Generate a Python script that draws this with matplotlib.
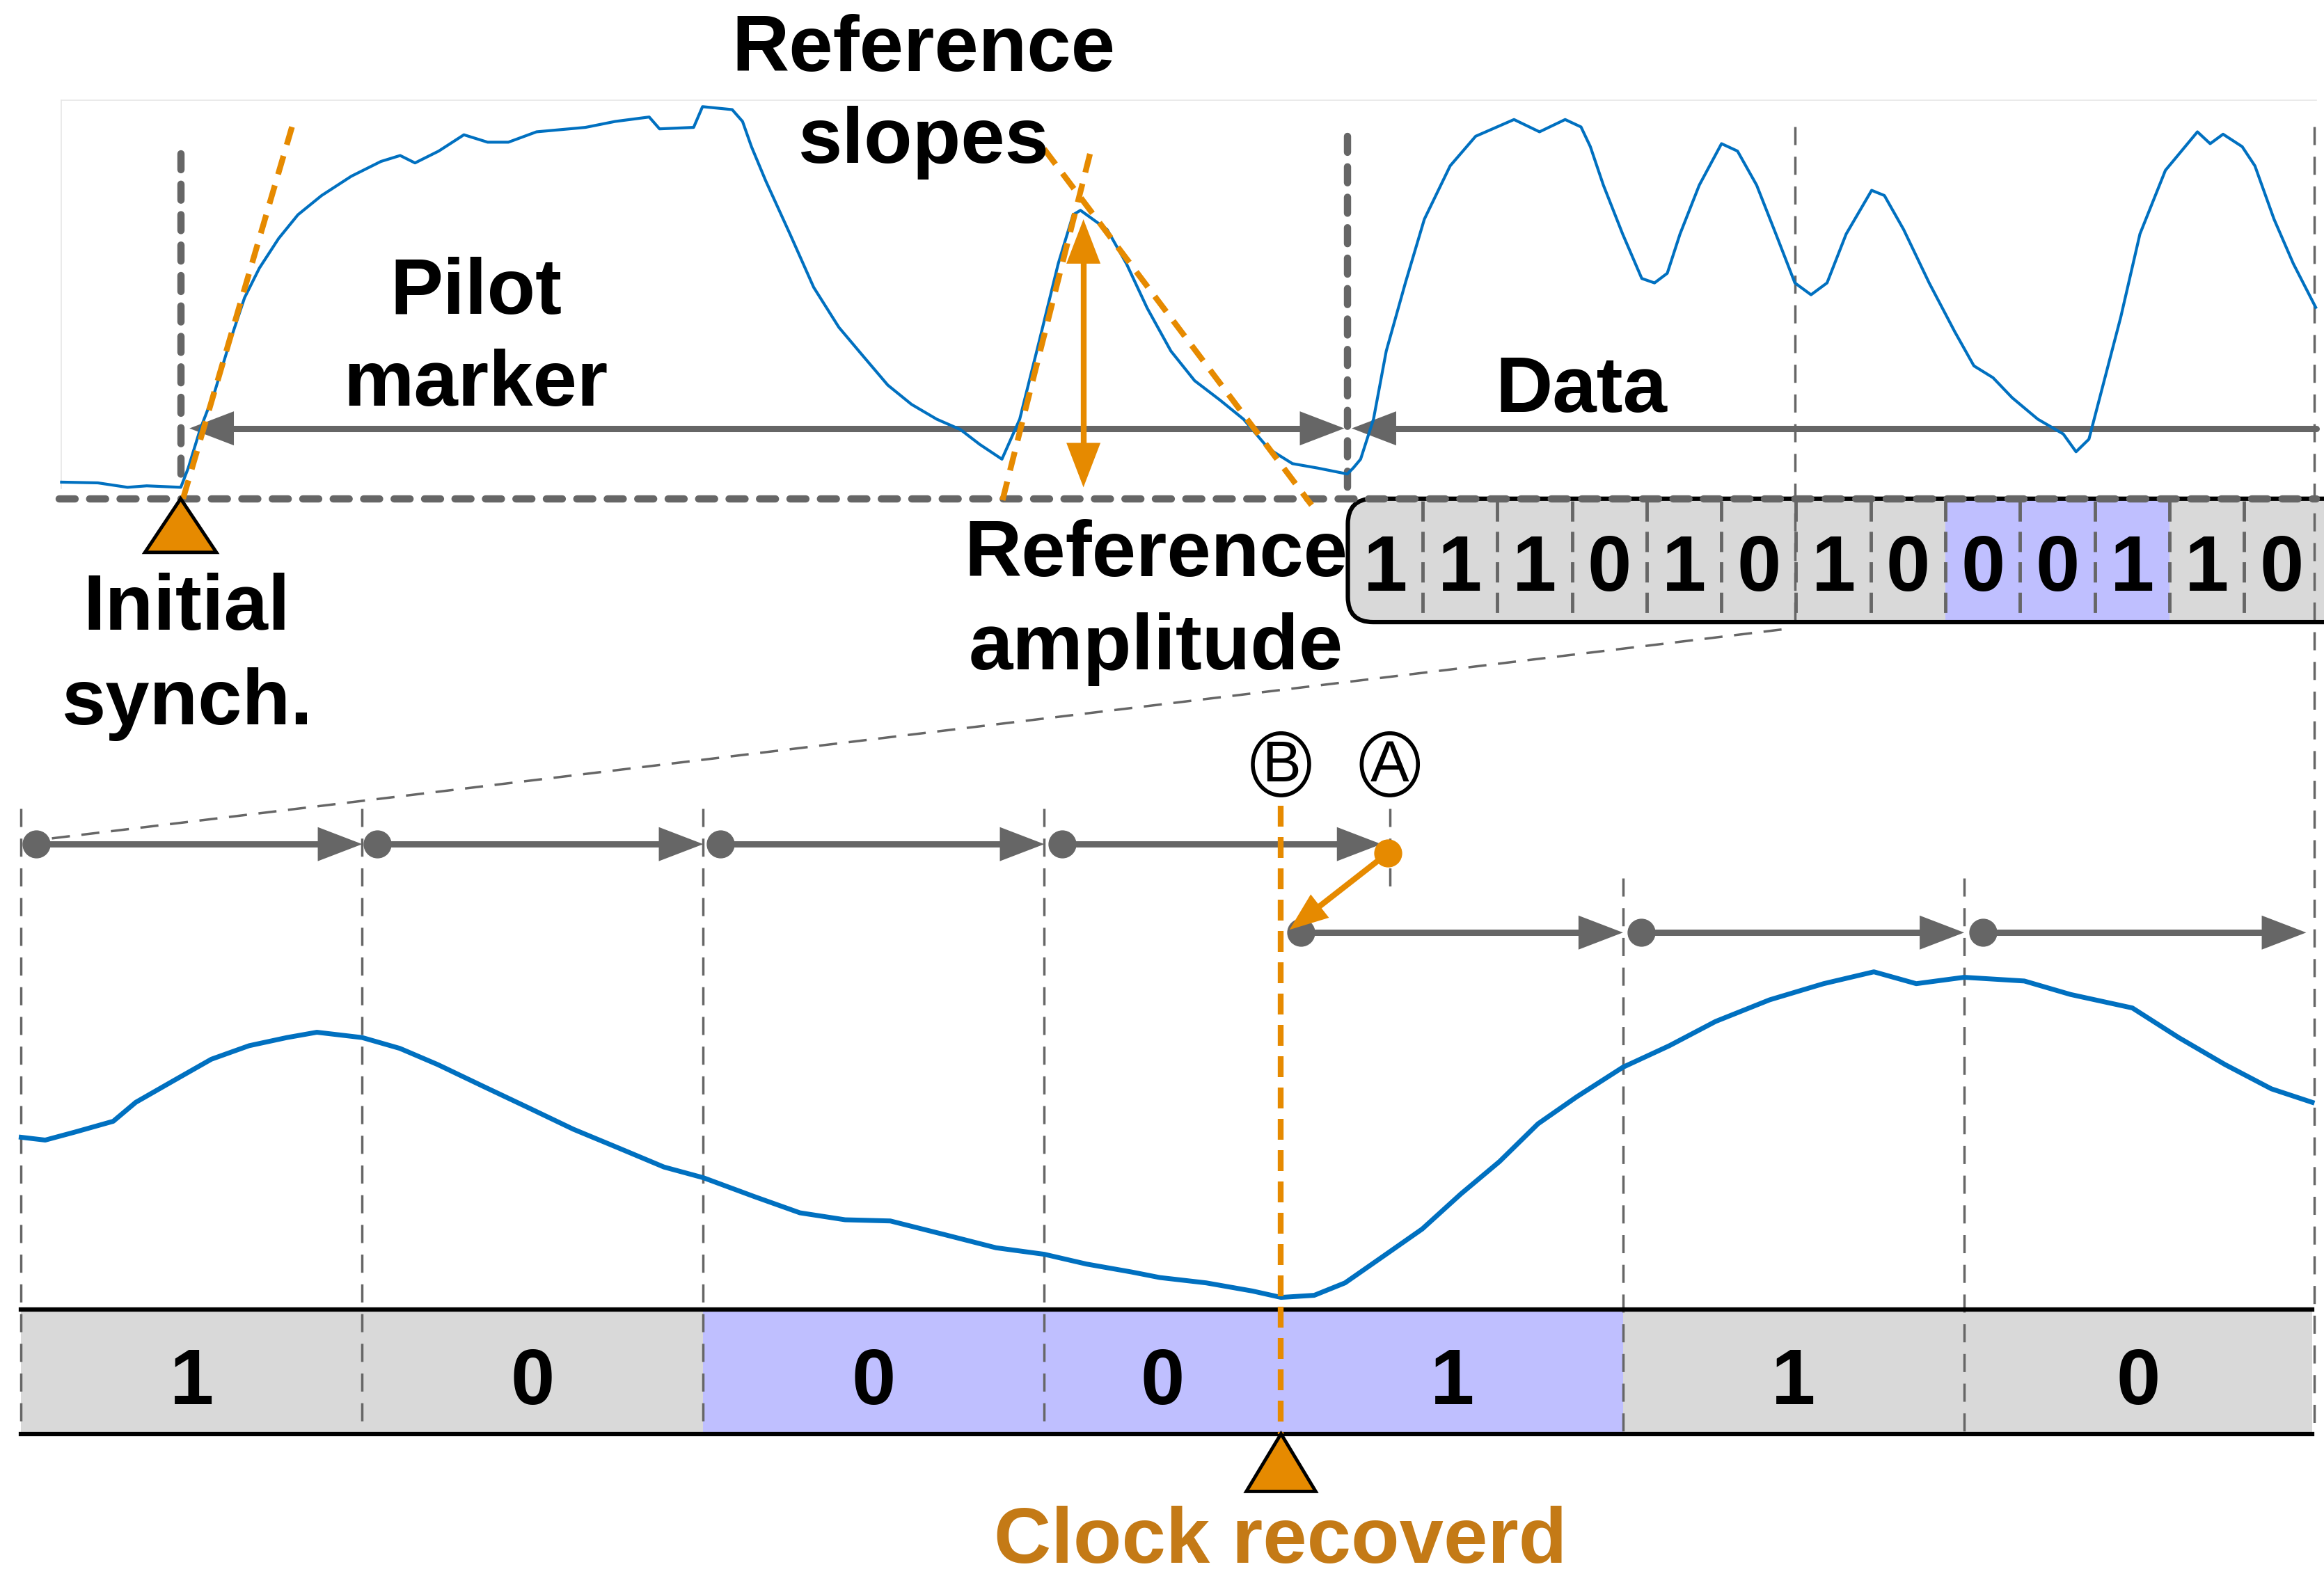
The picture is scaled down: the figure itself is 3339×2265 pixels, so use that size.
import matplotlib.pyplot as plt
from matplotlib.patches import Polygon, Rectangle, FancyBboxPatch, Ellipse

plt.rcParams['font.family'] = ['Liberation Sans', 'DejaVu Sans']

GREY = "#666666"
BLUE = "#0070C0"
ORANGE = "#E68A00"
TEXT_ORANGE = "#C47A16"
CELL_GREY = "#D9D9D9"
CELL_BLUE = "#BFBFFF"

# top trace: pilot marker followed by data
pilot_x = [41.5, 66, 86, 99, 122, 127, 135, 145, 155, 165, 175, 188, 201, 217, 237,
           257, 270, 280, 296, 313, 329, 343, 362, 395, 415, 438, 445, 468, 474, 494,
           501, 507, 516.6, 533, 549, 566, 582, 599, 615, 632, 648, 661, 676, 688, 701,
           714, 724, 729, 747, 760, 774, 790, 806, 823, 839, 856, 872, 889, 909, 913]
pilot_y = [325.5, 326, 329, 328, 329, 316, 290, 264, 231, 201, 181, 161, 145, 132, 119,
           109, 105, 110, 102, 91, 96, 96, 89, 86, 82, 79, 87, 86, 72, 74,
           82, 99, 122, 158, 194, 221, 240, 260, 273, 283, 290, 300, 310, 283, 231,
           178, 145, 142, 155, 178, 208, 237, 257, 270, 283, 303, 313, 316, 320, 316]
data_x = [918, 926.7, 935.3, 948.2, 961, 978.4, 995.6, 1021.5, 1038.7, 1056, 1066.7,
          1073, 1081.8, 1094.8, 1107.7, 1116.3, 1124.9, 1133.5, 1146.5, 1161.5, 1172.3,
          1185.2, 1198.2, 1211, 1221.9, 1232.7, 1245.6, 1262.8, 1271.4, 1284.4, 1301.6,
          1318.9, 1331.8, 1344.7, 1357.6, 1374.9, 1392.1, 1400.7, 1409.4, 1418, 1430.9,
          1443.8, 1461, 1482.6, 1491.2, 1499.9, 1512.8, 1521.4, 1534.3, 1547.3, 1562.4]
data_y = [310, 283, 237, 191, 148, 112, 92, 80.7, 89, 80.7, 85.7,
          99, 125, 158, 188, 191, 184.5, 158, 125, 97, 102,
          125, 158, 191, 199, 191, 158, 128.5, 132, 155, 191,
          224, 247, 255, 268.5, 283, 293, 305, 296.5, 263.5, 214,
          158, 115, 89, 97, 90.6, 99, 112, 148, 178, 207.5]

# bottom trace: zoom on the data bits
zoom_x = [14.3, 30.5, 50.9, 76.4, 91.6, 117.1, 142.6, 168, 193.5, 213.8, 244.4, 269.8,
          295.3, 325.8, 356.4, 386.9, 417.5, 448, 474.5, 509.1, 539.7, 570.2, 600.7,
          636.4, 672, 704.6, 733.1, 763.7, 782.5, 813.8, 845, 864.3, 886.7, 907.5,
          933.6, 959.6, 985.6, 1011.7, 1037.7, 1063.8, 1095, 1126.3, 1157.5, 1194,
          1230.4, 1264.3, 1292.9, 1325.2, 1365.8, 1397, 1438.7, 1470, 1501.2, 1532.5, 1560]
zoom_y = [767.8, 769.7, 764.2, 757, 744.2, 729.6, 715.1, 706, 700.5, 696.9, 700.5, 707.8,
          718.7, 733.3, 747.8, 762.4, 775.1, 787.9, 795.1, 807.9, 818.8, 823.5, 824.3,
          833.3, 842.4, 846.8, 853.4, 858.8, 862.5, 866.1, 871.6, 875.9, 874.5, 866.1,
          847.9, 829.7, 806.1, 784.2, 758.7, 740.5, 720.5, 706, 689.6, 675,
          664.1, 656.1, 664.1, 659.8, 662.3, 671.4, 680.5, 700.5, 718.7, 735.1, 744.2]

top_bits = ["1", "1", "1", "0", "1", "0", "1", "0", "0", "0", "1", "1", "0"]
top_highlight = [8, 9, 10]
bottom_bits = ["1", "0", "0", "0", "1", "1", "0"]
bottom_edges = [14.3, 244.4, 474.5, 704.6, 864.3, 1095.0, 1325.2, 1560.0]
bottom_highlight = [2, 3, 4]

# clock ticks before and after recovery
row1_dots = [24.4, 254.6, 486.2, 716.8]
row1_tips = [244.4, 474.5, 704.6, 932.0]
row2_dots = [877.9, 1107.5, 1337.7]
row2_tips = [1095.0, 1325.2, 1556.0]

fig = plt.figure(figsize=(33.39, 22.65), dpi=100)
ax = fig.add_axes([0, 0, 1, 1])
ax.set_xlim(0, 1568)
ax.set_ylim(1064, 0)
ax.axis('off')


def arrow(x0, y0, x1, y1, color, lw, hl=30, hw=11.5, both=False, z=5):
    dx, dy = x1 - x0, y1 - y0
    L = (dx * dx + dy * dy) ** 0.5
    ux, uy = dx / L, dy / L
    bx, by = x1 - ux * (hl - 2), y1 - uy * (hl - 2)
    sx, sy = x0, y0
    heads = [(x1, y1, ux, uy)]
    if both:
        sx, sy = x0 + ux * (hl - 2), y0 + uy * (hl - 2)
        heads.append((x0, y0, -ux, -uy))
    ax.plot([sx, bx], [sy, by], color=color, lw=lw, solid_capstyle='round', zorder=z)
    for tx, ty, vx, vy in heads:
        hx, hy = tx - vx * hl, ty - vy * hl
        ax.add_patch(Polygon([(tx, ty), (hx - vy * hw, hy + vx * hw), (hx + vy * hw, hy - vx * hw)],
                             closed=True, facecolor=color, edgecolor='none', zorder=z))


def thin_dash(x0, y0, x1, y1, color=GREY, lw=2.5, z=3):
    ax.plot([x0, x1], [y0, y1], color=color, lw=lw, dashes=(7.5, 4.8), zorder=z)


def bold_dash(x0, y0, x1, y1, color=GREY, lw=7.5, z=4):
    ax.plot([x0, x1], [y0, y1], color=color, lw=lw, dashes=(2.2, 2.0),
            dash_capstyle='round', zorder=z)


TXT = dict(fontsize=82, fontweight='bold', ha='center', va='baseline', color='black', zorder=10)

# ---------- top panel ----------
ax.plot([41.5, 41.5], [67.5, 330], color="#E6E6E6", lw=1.2, zorder=1)
ax.plot([41.5, 1563], [67.5, 67.5], color="#E6E6E6", lw=1.2, zorder=1)

ax.plot(pilot_x + data_x, pilot_y + data_y, color=BLUE, lw=3, zorder=6)

bold_dash(40, 336.7, 1563, 336.7, z=7)
bold_dash(121.9, 104, 121.9, 329)
bold_dash(909.3, 92, 909.3, 336)

# reference slopes
ax.plot([123.5, 197], [336.7, 85.7], color=ORANGE, lw=6, dashes=(3.3, 2.0), zorder=7)
ax.plot([676.4, 736.7], [337.7, 98.8], color=ORANGE, lw=6, dashes=(3.3, 2.0), zorder=7)
ax.plot([704.4, 884.9], [100.5, 341], color=ORANGE, lw=6, dashes=(3.3, 2.0), zorder=7)
arrow(731, 148, 731, 329, ORANGE, 6, both=True, z=8)

arrow(907, 289.2, 127.8, 289.2, GREY, 6.5, both=True)
arrow(1563, 289.2, 912, 289.2, GREY, 6.5)

ax.add_patch(Polygon([(121.9, 336.7), (97.8, 372.9), (146, 372.9)], closed=True,
                     facecolor=ORANGE, edgecolor='black', lw=3.5, zorder=9))

ax.text(623, 48, "Reference", **TXT)
ax.text(623, 110, "slopes", **TXT)
ax.text(321, 212, "Pilot", **TXT)
ax.text(321, 274, "marker", **TXT)
ax.text(126, 425, "Initial", **TXT)
ax.text(126, 489, "synch.", **TXT)
ax.text(780, 389, "Reference", **TXT)
ax.text(780, 452, "amplitude", **TXT)
ax.text(1067, 278, "Data", **TXT)

# bit box of the data section
box_left, cell_w = 909.4, 50.4
clip = Rectangle((0, 0), 1563.5, 1064, transform=ax.transData)
bg = FancyBboxPatch((box_left, 336.7), 700, 83.3, boxstyle="round,pad=0,rounding_size=17",
                    facecolor=CELL_GREY, edgecolor='none', zorder=2)
bg.set_clip_path(clip)
ax.add_patch(bg)
for i in top_highlight:
    ax.add_patch(Rectangle((box_left + i * cell_w, 336.7), cell_w, 83.3,
                           facecolor=CELL_BLUE, edgecolor='none', zorder=2.5))
for i, b in enumerate(top_bits):
    ax.text(box_left + (i + 0.5) * cell_w, 398.6, b, **TXT)
    if i > 0:
        ax.plot([box_left + i * cell_w] * 2, [338, 419], color=GREY, lw=3.5,
                dashes=(6, 3), zorder=3)
edge = FancyBboxPatch((box_left, 336.7), 700, 83.3, boxstyle="round,pad=0,rounding_size=17",
                      facecolor='none', edgecolor='black', lw=4.5, zorder=6)
edge.set_clip_path(clip)
ax.add_patch(edge)

# zoom guides
thin_dash(1211.1, 85.6, 1211.1, 420)
thin_dash(1561.5, 85.6, 1561.5, 968)
thin_dash(1202, 425, 35, 566)

# ---------- bottom panel ----------
ax.add_patch(Rectangle((bottom_edges[0], 884.3), bottom_edges[-1] - bottom_edges[0], 83.7,
                       facecolor=CELL_GREY, edgecolor='none', zorder=1))
for i in bottom_highlight:
    ax.add_patch(Rectangle((bottom_edges[i], 884.3), bottom_edges[i + 1] - bottom_edges[i], 83.7,
                           facecolor=CELL_BLUE, edgecolor='none', zorder=1.5))
ax.plot([bottom_edges[0], bottom_edges[-1]], [884.3, 884.3], color='black', lw=4.5, zorder=5)
ax.plot([bottom_edges[0], bottom_edges[-1]], [968, 968], color='black', lw=4.5, zorder=5)
for i, b in enumerate(bottom_bits):
    ax.text((bottom_edges[i] + bottom_edges[i + 1]) / 2, 948, b, **TXT)

for x in row1_tips[:-1] + [bottom_edges[0]]:
    thin_dash(x, 546, x, 968)
for x in row2_tips[:-1]:
    thin_dash(x, 593, x, 968)
thin_dash(937.7, 546, 937.7, 600)

ax.plot(zoom_x, zoom_y, color=BLUE, lw=5, zorder=6)

for d, t in zip(row1_dots, row1_tips):
    arrow(d, 569.9, t, 569.9, GREY, 6.5)
ax.plot(row1_dots, [569.9] * len(row1_dots), 'o', ms=28, color=GREY, zorder=7)
for d, t in zip(row2_dots, row2_tips):
    arrow(d, 629.6, t, 629.6, GREY, 6.5)
ax.plot(row2_dots, [629.6] * len(row2_dots), 'o', ms=28, color=GREY, zorder=7)

# clock correction A -> B
ax.plot([864.3, 864.3], [544, 968], color=ORANGE, lw=6, dashes=(3.6, 1.8), zorder=8)
arrow(936.2, 576, 870, 627.7, ORANGE, 6, hl=26, hw=10, z=8)
ax.plot([936.2], [576], 'o', ms=28, color=ORANGE, zorder=9)

for lx, letter in [(864.3, "B"), (937.7, "A")]:
    ax.add_patch(Ellipse((lx, 516), 38, 42, facecolor='white', edgecolor='black', lw=4, zorder=9))
    ax.text(lx, 517, letter, fontsize=60, ha='center', va='center', zorder=10)

ax.add_patch(Polygon([(864.3, 968), (840.9, 1006.9), (887.7, 1006.9)], closed=True,
                     facecolor=ORANGE, edgecolor='black', lw=3.5, zorder=9))
ax.text(864, 1055, "Clock recoverd", fontsize=82, fontweight='bold', ha='center',
        va='baseline', color=TEXT_ORANGE, zorder=10)

fig.savefig("out.png", dpi=100, facecolor='white')
